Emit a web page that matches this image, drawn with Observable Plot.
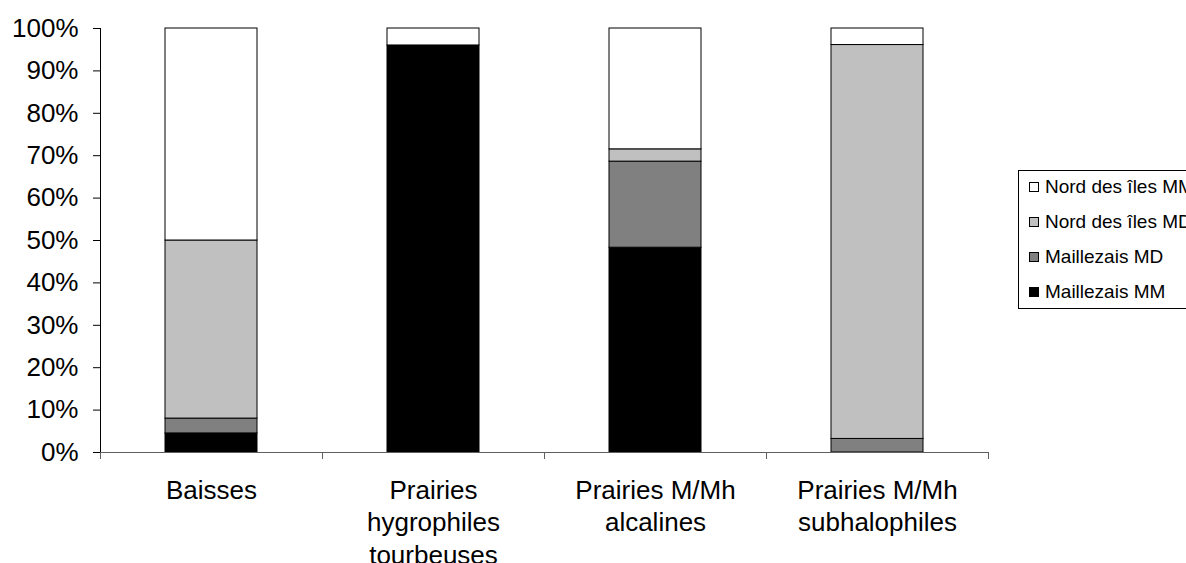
<!DOCTYPE html>
<html>
<head>
<meta charset="utf-8">
<script src="https://cdn.jsdelivr.net/npm/d3@7"></script>
<script src="https://cdn.jsdelivr.net/npm/@observablehq/plot@0.6"></script>
<style>
  html, body { margin: 0; padding: 0; background: #fff; overflow: hidden; }
  #wrap { position: relative; width: 1186px; height: 563px; overflow: hidden; font-family: "Liberation Sans", Arial, sans-serif; }
  #legend { position: absolute; left: 1018px; top: 170px; width: 220px; height: 139px; border: 1px solid #000; background: #fff; box-sizing: border-box; }
  .item { position: absolute; left: 10px; display: flex; align-items: center; font-size: 19px; color: #000; white-space: nowrap; }
  .sw { width: 10px; height: 10px; border: 1px solid #000; margin-right: 6px; box-sizing: border-box; }
</style>
</head>
<body>
<div id="wrap"><div id="chart"></div><div id="legend"></div></div>
<script>
const categories = ["Baisses", "Prairies\nhygrophiles\ntourbeuses", "Prairies M/Mh\nalcalines", "Prairies M/Mh\nsubhalophiles"];
const series = ["Maillezais MM", "Maillezais MD", "Nord des îles MD", "Nord des îles MM"];
const colors = ["#000000", "#808080", "#c0c0c0", "#ffffff"];
const maillezaisMM = [4.5, 96, 48.3, 0];
const maillezaisMD = [3.5, 0, 20.3, 3.2];
const nordMD = [42, 0, 2.9, 92.9];
const nordMM = [50, 4, 28.5, 3.9];
const yTicks = [0, 10, 20, 30, 40, 50, 60, 70, 80, 90, 100];

const valuesBySeries = [maillezaisMM, maillezaisMD, nordMD, nordMM];
const rows = [];
series.forEach((s, si) => categories.forEach((c, ci) => {
  const v = valuesBySeries[si][ci];
  if (v > 0) rows.push({category: c, series: s, value: v});
}));

function frameLines(...args) {
  let scales, dimensions;
  if (args.length >= 4) { scales = args[1]; dimensions = args[3]; } else { scales = args[0]; dimensions = args[1]; }
  const {marginLeft, marginTop, marginBottom, height} = dimensions;
  const g = d3.create("svg:g");
  const x = scales.x;
  const bw = typeof x.bandwidth === "function" ? x.bandwidth() : (+x.bandwidth || 0);
  const centers = categories.map(c => x(c) + bw / 2);
  const step = centers[1] - centers[0];
  const bounds = centers.map(c => c - step / 2).concat([centers[centers.length - 1] + step / 2]);
  const y0 = height - marginBottom;
  // y axis line
  g.append("line").attr("x1", marginLeft + 0.5).attr("x2", marginLeft + 0.5)
    .attr("y1", marginTop).attr("y2", y0).attr("stroke", "#000");
  // category boundary ticks
  bounds.forEach(b => g.append("line").attr("x1", Math.round(b) + 0.5).attr("x2", Math.round(b) + 0.5)
    .attr("y1", y0).attr("y2", y0 + 7).attr("stroke", "#606060"));
  return g.node();
}

const chart = Plot.plot({
  width: 1186,
  height: 563,
  marginLeft: 100,
  marginRight: 198,
  marginTop: 28,
  marginBottom: 111,
  style: {fontFamily: "Liberation Sans, Arial, sans-serif", fontSize: "26px", color: "#000", background: "#fff"},
  x: {domain: categories, paddingInner: 0.585, paddingOuter: 0.2925, align: 0.5},
  y: {domain: [0, 100]},
  color: {domain: series, range: colors},
  marks: [
    Plot.barY(rows, Plot.stackY({order: series}, {x: "category", y: "value", fill: "series", stroke: "#000", strokeWidth: 1})),
    Plot.ruleY([0], {stroke: "#606060"}),
    Plot.axisY({ticks: yTicks, tickFormat: d => d + "%", tickSize: 7, tickPadding: 15, fontSize: 26, label: null, stroke: "#000"}),
    Plot.axisX({tickSize: 0, tickPadding: 23, fontSize: 26, lineHeight: 1.25, label: null}),
    frameLines
  ]
});
document.getElementById("chart").appendChild(chart);

const legend = document.getElementById("legend");
const legendOrder = [3, 2, 1, 0];
legendOrder.forEach((si, k) => {
  const it = document.createElement("div");
  it.className = "item";
  it.style.top = (5 + k * 35) + "px";
  const sw = document.createElement("div");
  sw.className = "sw";
  sw.style.background = colors[si];
  const tx = document.createElement("span");
  tx.textContent = series[si];
  it.appendChild(sw); it.appendChild(tx);
  legend.appendChild(it);
});
</script>
</body>
</html>
